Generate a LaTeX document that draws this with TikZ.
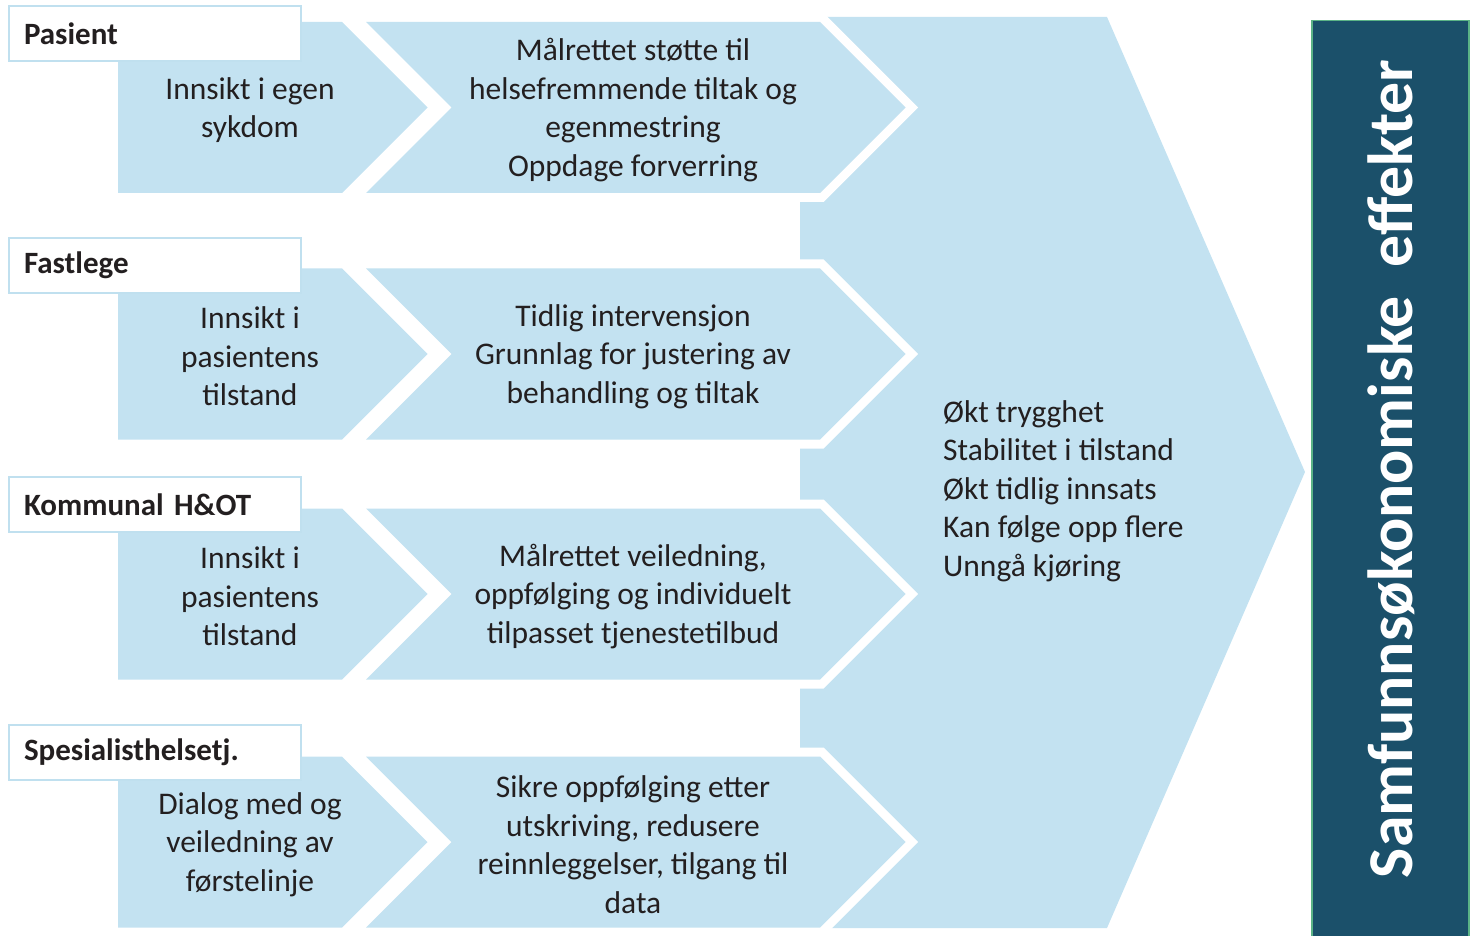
\documentclass[tikz,border=0pt]{standalone}
\usepackage{fontspec}
\setmainfont{Carlito}
\usepackage{tikz}

\definecolor{lyseblaa}{HTML}{C3E2F1}
\definecolor{kantblaa}{HTML}{C0E0EF}
\definecolor{morkblaa}{HTML}{1B506A}
\definecolor{kantgronn}{HTML}{5BB386}
\definecolor{tekst}{HTML}{231F20}

\tikzstyle{pilen} = [fill=lyseblaa]
\tikzstyle{pilto} = [fill=lyseblaa, preaction={draw=white, line width=18pt, line join=miter}]
\tikzstyle{rolle} = [rectangle, draw=kantblaa, line width=2pt, fill=white, anchor=north west, minimum width=292pt, minimum height=55pt, inner xsep=15pt, text width=262pt, align=left, text=tekst, font=\fontsize{31}{38}\selectfont\bfseries]
\tikzstyle{tekstfelt} = [text=tekst, align=center, inner sep=0pt, font=\fontsize{31.5}{38.5}\selectfont]

\begin{document}
\begin{tikzpicture}[x=1pt, y=-1pt]
	\useasboundingbox (0,0) rectangle (1476,936);

	% stor pil bak radene
	\fill [lyseblaa] (800,17) -- (1107,17) -- (1305,472) -- (1107,928) -- (800,928) -- cycle;

	% pilene i hver rad (midten av raden)
	\foreach \m/\r in {107.5/1, 354/2, 594/3, 842/4} {
		\fill [pilto] (366,\m-85.5) -- (820,\m-85.5) -- (905.5,\m) -- (820,\m+85.5) -- (366,\m+85.5) -- (451.5,\m) -- cycle;
		\fill [pilen] (118,\m-85.5) -- (342,\m-85.5) -- (427.5,\m) -- (342,\m+85.5) -- (118,\m+85.5) -- cycle;
		\coordinate (venstre\r) at (250,\m+2.5);   % tekst i første pil
		\coordinate (hoyre\r) at (633,\m+2.5);     % tekst i andre pil
	}

	% rollene
	\node (pasient) [rolle] at (8,5) {Pasient};
	\node (fastlege) [rolle] at (8,237) {Fastlege};
	\node (kommunal) [rolle] at (8,476) {Kommunal H\&OT};
	\node (spesialist) [rolle] at (8,724) {Spesialisthelsetj.};

	% tekst i pilene
	\node (sykdom) [tekstfelt] at (venstre1) {Innsikt i egen\\sykdom};
	\node (tilstandfl) [tekstfelt] at (venstre2) {Innsikt i\\pasientens\\tilstand};
	\node (tilstandko) [tekstfelt] at (venstre3) {Innsikt i\\pasientens\\tilstand};
	\node (dialog) [tekstfelt] at (venstre4) {Dialog med og\\veiledning av\\førstelinje};
	\node (mestring) [tekstfelt] at (hoyre1) {Målrettet støtte til\\helsefremmende tiltak og\\egenmestring\\Oppdage forverring};
	\node (intervensjon) [tekstfelt] at (hoyre2) {Tidlig intervensjon\\Grunnlag for justering av\\behandling og tiltak};
	\node (veiledning) [tekstfelt] at (hoyre3) {Målrettet veiledning,\\oppfølging og individuelt\\tilpasset tjenestetilbud};
	\node (utskriving) [tekstfelt] at (hoyre4) {Sikre oppfølging etter\\utskriving, redusere\\reinnleggelser, tilgang til\\data};

	% effektene
	\node (effekter) [tekstfelt, align=left, anchor=west] at (943,491) {Økt trygghet\\Stabilitet i tilstand\\Økt tidlig innsats\\Kan følge opp flere\\Unngå kjøring};

	% boksen til høyre
	\node (samfunnboks) [rectangle, draw=kantgronn, fill=morkblaa, line width=1.5pt, anchor=north west, minimum width=157pt, minimum height=925pt] at (1311,20) {};
	\node (samfunn) [rotate=90, anchor=base, text=white, font=\fontsize{63.8}{70}\selectfont\bfseries] at (1412,469) {Samfunnsøkonomiske~~effekter};
\end{tikzpicture}
\end{document}
